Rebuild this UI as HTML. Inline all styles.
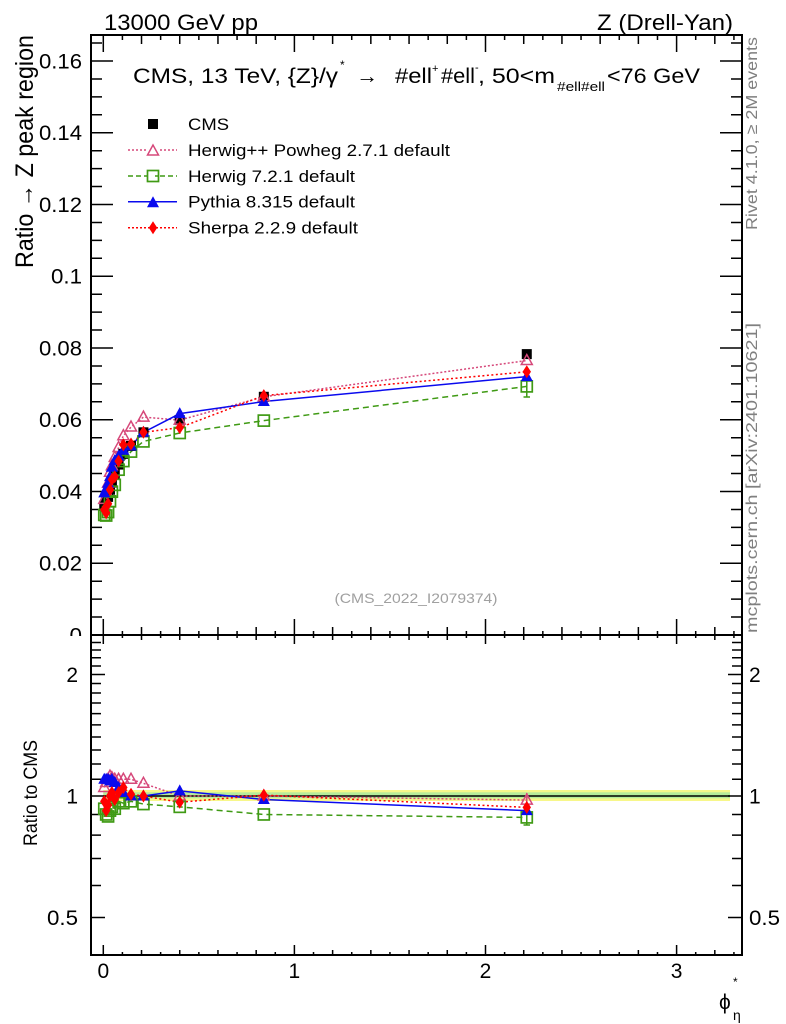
<!DOCTYPE html>
<html><head><meta charset="utf-8"><style>
html,body{margin:0;padding:0;background:#fff;}
svg{display:block;font-family:"Liberation Sans",Arial,sans-serif;}
</style></head><body>
<svg width="786" height="1024" viewBox="0 0 786 1024" xmlns="http://www.w3.org/2000/svg">
<defs>
<rect id="mC" x="-5" y="-5" width="10" height="10" fill="#000"/>
<polygon id="mH" points="0,-6 -5.5,4 5.5,4" fill="none" stroke="#d6487a" stroke-width="1.5"/>
<rect id="mG" x="-5.5" y="-5.5" width="11" height="11" fill="none" stroke="#3f9a14" stroke-width="1.7"/>
<polygon id="mP" points="0,-6.5 -6,4.5 6,4.5" fill="#0a0aee"/>
<polygon id="mS" points="0,-6.5 4.2,0 0,6.5 -4.2,0" fill="#ff0000"/>
<path id="xS" d="M122.41,0V1M160.63,0V1M198.85,0V1M237.07,0V1M275.29,0V1M313.51,0V1M351.73,0V1M389.95,0V1M428.17,0V1M466.39,0V1M504.61,0V1M542.83,0V1M581.05,0V1M619.27,0V1M657.49,0V1M695.71,0V1M733.93,0V1"/>
<path id="xM" d="M141.52,0V1M179.74,0V1M217.96,0V1M256.18,0V1M332.62,0V1M370.84,0V1M409.06,0V1M447.28,0V1M523.72,0V1M561.94,0V1M600.16,0V1M638.38,0V1M714.82,0V1"/>
<path id="xL" d="M103.3,0V1M294.4,0V1M485.5,0V1M676.6,0V1"/>
<path id="yMn" d="M0,617.06H1M0,599.13H1M0,581.19H1M0,545.31H1M0,527.38H1M0,509.44H1M0,473.56H1M0,455.63H1M0,437.69H1M0,401.81H1M0,383.88H1M0,365.94H1M0,330.06H1M0,312.13H1M0,294.19H1M0,258.31H1M0,240.38H1M0,222.44H1M0,186.56H1M0,168.63H1M0,150.69H1M0,114.81H1M0,96.88H1M0,78.94H1M0,43.06H1"/>
<path id="yMj" d="M0,563.25H1M0,491.5H1M0,419.75H1M0,348H1M0,276.25H1M0,204.5H1M0,132.75H1M0,61H1"/>
<path id="rMn" d="M0,885.54H1M0,858.52H1M0,835.11H1M0,814.47H1M0,779.29H1M0,764.04H1M0,750.01H1M0,737.02H1M0,724.92H1M0,713.61H1M0,702.99H1M0,692.97H1M0,683.49H1M0,665.95H1M0,657.79H1M0,650H1M0,642.55H1"/>
<path id="rMj" d="M0,917.5H1M0,796H1M0,674.5H1"/>
</defs>

<text x="104" y="30" font-size="22" textLength="154" lengthAdjust="spacingAndGlyphs">13000 GeV pp</text>
<text x="597" y="30" font-size="22" textLength="136" lengthAdjust="spacingAndGlyphs">Z (Drell-Yan)</text>

<rect x="103.3" y="790" width="626.7" height="11" fill="#f7f78a"/>
<rect x="103.3" y="792.3" width="626.7" height="6" fill="#b6ec9a"/>
<line x1="103.3" y1="796" x2="730" y2="796" stroke="#000" stroke-width="1.5"/>

<g stroke="#000" stroke-width="1.5" fill="none">
<use href="#xS" transform="translate(0,635) scale(1,-4)"/>
<use href="#xM" transform="translate(0,635) scale(1,-8)"/>
<use href="#xL" transform="translate(0,635) scale(1,-16)"/>
<use href="#xS" transform="translate(0,35) scale(1,5)"/>
<use href="#xM" transform="translate(0,35) scale(1,9)"/>
<use href="#xL" transform="translate(0,35) scale(1,17)"/>
<use href="#xS" transform="translate(0,635) scale(1,3)"/>
<use href="#xM" transform="translate(0,635) scale(1,5)"/>
<use href="#xL" transform="translate(0,635) scale(1,9)"/>
<use href="#xS" transform="translate(0,955) scale(1,-3)"/>
<use href="#xM" transform="translate(0,955) scale(1,-5)"/>
<use href="#xL" transform="translate(0,955) scale(1,-10)"/>
<use href="#yMn" transform="translate(91,0) scale(11,1)"/>
<use href="#yMj" transform="translate(91,0) scale(22,1)"/>
<use href="#yMn" transform="translate(742,0) scale(-11,1)"/>
<use href="#yMj" transform="translate(742,0) scale(-22,1)"/>
<use href="#rMn" transform="translate(91,0) scale(10,1)"/>
<use href="#rMj" transform="translate(91,0) scale(14,1)"/>
<use href="#rMn" transform="translate(742,0) scale(-10,1)"/>
<use href="#rMj" transform="translate(742,0) scale(-14,1)"/>
</g>

<g fill="none" stroke-width="1.5">
<polyline stroke="#d6487a" stroke-dasharray="2,2" points="104.26,499.39 106.17,491.64 108.08,483.07 109.99,472.28 111.9,465.76 114.77,457.42 118.59,447.55 123.37,435.71 131.01,427.03 143.43,417.11 179.74,420.11 263.82,396.79 526.78,360.56"/>
<polyline stroke="#3f9a14" stroke-dasharray="6,4" points="104.26,514.89 106.17,515.53 108.08,512.07 109.99,501.33 111.9,491.68 114.77,484.86 118.59,469.7 123.37,461.08 131.01,451.61 143.43,441.43 179.74,433 263.82,420.61 526.78,386.4"/>
<polyline stroke="#0a0aee" points="104.26,492.93 106.17,488.99 108.08,483.07 109.99,476.63 111.9,467.28 114.77,460.64 118.59,456.07 123.37,450.21 131.01,445.94 143.43,432.31 179.74,413.66 263.82,401.55 526.78,376.57"/>
<polyline stroke="#ff0000" stroke-dasharray="2,2.5" points="104.26,509.72 106.17,512.88 108.08,503.79 109.99,489.71 111.9,479.48 114.77,476.79 118.59,461.18 123.37,444.77 131.01,444.05 143.43,432.31 179.74,427.63 263.82,395.6 526.78,371.8"/>
<path d="M526.78,376V397M523.5,397H530" stroke="#3f9a14"/>
</g>

<g>
<use href="#mC" x="104.26" y="505.85"/><use href="#mC" x="106.17" y="502.26"/><use href="#mC" x="108.08" y="496.88"/><use href="#mC" x="109.99" y="489.71"/><use href="#mC" x="111.9" y="482.53"/><use href="#mC" x="114.77" y="473.56"/><use href="#mC" x="118.59" y="464.59"/><use href="#mC" x="123.37" y="453.83"/><use href="#mC" x="131.01" y="445.94"/><use href="#mC" x="143.43" y="432.31"/><use href="#mC" x="179.74" y="420.11"/><use href="#mC" x="263.82" y="396.79"/><use href="#mC" x="526.78" y="354.1"/>
<use href="#mH" x="104.26" y="499.39"/><use href="#mH" x="106.17" y="491.64"/><use href="#mH" x="108.08" y="483.07"/><use href="#mH" x="109.99" y="472.28"/><use href="#mH" x="111.9" y="465.76"/><use href="#mH" x="114.77" y="457.42"/><use href="#mH" x="118.59" y="447.55"/><use href="#mH" x="123.37" y="435.71"/><use href="#mH" x="131.01" y="427.03"/><use href="#mH" x="143.43" y="417.11"/><use href="#mH" x="179.74" y="420.11"/><use href="#mH" x="263.82" y="396.79"/><use href="#mH" x="526.78" y="360.56"/>
<use href="#mG" x="104.26" y="514.89"/><use href="#mG" x="106.17" y="515.53"/><use href="#mG" x="108.08" y="512.07"/><use href="#mG" x="109.99" y="501.33"/><use href="#mG" x="111.9" y="491.68"/><use href="#mG" x="114.77" y="484.86"/><use href="#mG" x="118.59" y="469.7"/><use href="#mG" x="123.37" y="461.08"/><use href="#mG" x="131.01" y="451.61"/><use href="#mG" x="143.43" y="441.43"/><use href="#mG" x="179.74" y="433"/><use href="#mG" x="263.82" y="420.61"/><use href="#mG" x="526.78" y="386.4"/>
<use href="#mP" x="104.26" y="492.93"/><use href="#mP" x="106.17" y="488.99"/><use href="#mP" x="108.08" y="483.07"/><use href="#mP" x="109.99" y="476.63"/><use href="#mP" x="111.9" y="467.28"/><use href="#mP" x="114.77" y="460.64"/><use href="#mP" x="118.59" y="456.07"/><use href="#mP" x="123.37" y="450.21"/><use href="#mP" x="131.01" y="445.94"/><use href="#mP" x="143.43" y="432.31"/><use href="#mP" x="179.74" y="413.66"/><use href="#mP" x="263.82" y="401.55"/><use href="#mP" x="526.78" y="376.57"/>
<use href="#mS" x="104.26" y="509.72"/><use href="#mS" x="106.17" y="512.88"/><use href="#mS" x="108.08" y="503.79"/><use href="#mS" x="109.99" y="489.71"/><use href="#mS" x="111.9" y="479.48"/><use href="#mS" x="114.77" y="476.79"/><use href="#mS" x="118.59" y="461.18"/><use href="#mS" x="123.37" y="444.77"/><use href="#mS" x="131.01" y="444.05"/><use href="#mS" x="143.43" y="432.31"/><use href="#mS" x="179.74" y="427.63"/><use href="#mS" x="263.82" y="395.6"/><use href="#mS" x="526.78" y="371.8"/>
</g>

<g fill="none" stroke-width="1.5">
<polyline stroke="#d6487a" stroke-dasharray="2,2" points="104.26,787.45 106.17,782.51 108.08,779.29 109.99,776.13 111.9,777.7 114.77,779.29 118.59,779.29 123.37,779.29 131.01,779.29 143.43,783.31 179.74,796 263.82,796 526.78,800.08"/>
<polyline stroke="#3f9a14" stroke-dasharray="6,4" points="104.26,808.72 106.17,814.47 108.08,816.43 109.99,810.62 111.9,806.85 114.77,808.72 118.59,801.34 123.37,803.16 131.01,801.34 143.43,804.07 179.74,806.85 263.82,814.47 526.78,817.42"/>
<polyline stroke="#0a0aee" points="104.26,779.29 106.17,779.29 108.08,779.29 109.99,780.9 111.9,779.29 114.77,782.51 118.59,787.45 123.37,792.53 131.01,796 143.43,796 179.74,790.82 263.82,799.54 526.78,810.62"/>
<polyline stroke="#ff0000" stroke-dasharray="2,2.5" points="104.26,801.34 106.17,810.62 108.08,804.99 109.99,796 111.9,792.53 114.77,799.54 118.59,792.53 123.37,787.45 131.01,794.26 143.43,796 179.74,802.25 263.82,795.12 526.78,807.41"/>
<path d="M526.78,809V825M523.5,825H530" stroke="#3f9a14"/>
<path d="M526.78,793V807" stroke="#d6487a"/>
</g>

<g>
<use href="#mH" x="104.26" y="787.45"/><use href="#mH" x="106.17" y="782.51"/><use href="#mH" x="108.08" y="779.29"/><use href="#mH" x="109.99" y="776.13"/><use href="#mH" x="111.9" y="777.7"/><use href="#mH" x="114.77" y="779.29"/><use href="#mH" x="118.59" y="779.29"/><use href="#mH" x="123.37" y="779.29"/><use href="#mH" x="131.01" y="779.29"/><use href="#mH" x="143.43" y="783.31"/><use href="#mH" x="179.74" y="796"/><use href="#mH" x="263.82" y="796"/><use href="#mH" x="526.78" y="800.08"/>
<use href="#mG" x="104.26" y="808.72"/><use href="#mG" x="106.17" y="814.47"/><use href="#mG" x="108.08" y="816.43"/><use href="#mG" x="109.99" y="810.62"/><use href="#mG" x="111.9" y="806.85"/><use href="#mG" x="114.77" y="808.72"/><use href="#mG" x="118.59" y="801.34"/><use href="#mG" x="123.37" y="803.16"/><use href="#mG" x="131.01" y="801.34"/><use href="#mG" x="143.43" y="804.07"/><use href="#mG" x="179.74" y="806.85"/><use href="#mG" x="263.82" y="814.47"/><use href="#mG" x="526.78" y="817.42"/>
<use href="#mP" x="104.26" y="779.29"/><use href="#mP" x="106.17" y="779.29"/><use href="#mP" x="108.08" y="779.29"/><use href="#mP" x="109.99" y="780.9"/><use href="#mP" x="111.9" y="779.29"/><use href="#mP" x="114.77" y="782.51"/><use href="#mP" x="118.59" y="787.45"/><use href="#mP" x="123.37" y="792.53"/><use href="#mP" x="131.01" y="796"/><use href="#mP" x="143.43" y="796"/><use href="#mP" x="179.74" y="790.82"/><use href="#mP" x="263.82" y="799.54"/><use href="#mP" x="526.78" y="810.62"/>
<use href="#mS" x="104.26" y="801.34"/><use href="#mS" x="106.17" y="810.62"/><use href="#mS" x="108.08" y="804.99"/><use href="#mS" x="109.99" y="796"/><use href="#mS" x="111.9" y="792.53"/><use href="#mS" x="114.77" y="799.54"/><use href="#mS" x="118.59" y="792.53"/><use href="#mS" x="123.37" y="787.45"/><use href="#mS" x="131.01" y="794.26"/><use href="#mS" x="143.43" y="796"/><use href="#mS" x="179.74" y="802.25"/><use href="#mS" x="263.82" y="795.12"/><use href="#mS" x="526.78" y="807.41"/>
</g>

<g font-size="21">
<text x="133" y="83" textLength="205" lengthAdjust="spacingAndGlyphs">CMS, 13 TeV, {Z}/γ</text>
<text x="340" y="69" font-size="12">*</text>
<text x="356" y="83" textLength="22" lengthAdjust="spacingAndGlyphs">→</text>
<text x="395" y="83" textLength="37" lengthAdjust="spacingAndGlyphs">#ell</text>
<text x="432" y="72" font-size="11">+</text>
<text x="441" y="83" textLength="34" lengthAdjust="spacingAndGlyphs">#ell</text>
<text x="475" y="71" font-size="11">-</text>
<text x="478" y="83" textLength="77" lengthAdjust="spacingAndGlyphs">, 50&lt;m</text>
<text x="557" y="91" font-size="13" textLength="48" lengthAdjust="spacingAndGlyphs">#ell#ell</text>
<text x="607" y="83" textLength="93" lengthAdjust="spacingAndGlyphs">&lt;76 GeV</text>
</g>

<g stroke-width="1.5" fill="none">
<line x1="128" y1="150" x2="177" y2="150" stroke="#d6487a" stroke-dasharray="2,2"/>
<line x1="128" y1="176" x2="177" y2="176" stroke="#3f9a14" stroke-dasharray="5,3"/>
<line x1="128" y1="201.7" x2="177" y2="201.7" stroke="#0a0aee"/>
<line x1="128" y1="227.7" x2="177" y2="227.7" stroke="#ff0000" stroke-dasharray="2,2"/>
</g>
<rect x="148" y="119" width="10" height="10" fill="#000"/>
<rect x="148" y="145" width="10" height="10" fill="#fff"/>
<use href="#mH" x="153" y="151"/>
<rect x="147.5" y="170.5" width="11" height="11" fill="#fff"/>
<use href="#mG" x="153" y="176"/>
<line x1="155" y1="176" x2="159" y2="176" stroke="#3f9a14" stroke-width="1.5"/>
<use href="#mP" x="153" y="202.7"/>
<use href="#mS" x="153" y="227.7"/>
<g font-size="16.5">
<text x="188" y="130" textLength="41" lengthAdjust="spacingAndGlyphs">CMS</text>
<text x="188" y="156" textLength="262" lengthAdjust="spacingAndGlyphs">Herwig++ Powheg 2.7.1 default</text>
<text x="188" y="182" textLength="167" lengthAdjust="spacingAndGlyphs">Herwig 7.2.1 default</text>
<text x="188" y="207.7" textLength="167" lengthAdjust="spacingAndGlyphs">Pythia 8.315 default</text>
<text x="188" y="233.7" textLength="170" lengthAdjust="spacingAndGlyphs">Sherpa 2.2.9 default</text>
</g>

<text x="416" y="603" font-size="14" fill="#a0a0a0" text-anchor="middle" textLength="163" lengthAdjust="spacingAndGlyphs">(CMS_2022_I2079374)</text>

<g font-size="21" text-anchor="end">
<text x="82" y="68.3" textLength="43" lengthAdjust="spacingAndGlyphs">0.16</text>
<text x="82" y="140" textLength="43" lengthAdjust="spacingAndGlyphs">0.14</text>
<text x="82" y="211.8" textLength="43" lengthAdjust="spacingAndGlyphs">0.12</text>
<text x="82" y="283.5" textLength="31" lengthAdjust="spacingAndGlyphs">0.1</text>
<text x="82" y="355.3" textLength="43" lengthAdjust="spacingAndGlyphs">0.08</text>
<text x="82" y="427" textLength="43" lengthAdjust="spacingAndGlyphs">0.06</text>
<text x="82" y="498.8" textLength="43" lengthAdjust="spacingAndGlyphs">0.04</text>
<text x="82" y="570.5" textLength="43" lengthAdjust="spacingAndGlyphs">0.02</text>
<text x="82" y="642.3" textLength="12.5" lengthAdjust="spacingAndGlyphs">0</text>
</g>
<rect x="30" y="636" width="60" height="12" fill="#fff"/>

<g font-size="21">
<text x="78" y="682" text-anchor="end">2</text>
<text x="78" y="803.5" text-anchor="end">1</text>
<text x="78" y="925" text-anchor="end" textLength="31" lengthAdjust="spacingAndGlyphs">0.5</text>
<text x="749" y="682">2</text>
<text x="749" y="803.5">1</text>
<text x="749" y="925" textLength="31" lengthAdjust="spacingAndGlyphs">0.5</text>
</g>

<g font-size="21" text-anchor="middle">
<text x="103.3" y="978">0</text>
<text x="294.4" y="978">1</text>
<text x="485.5" y="978">2</text>
<text x="676.6" y="978">3</text>
</g>
<text x="719" y="1009" font-size="21">ϕ</text>
<text x="733" y="986" font-size="12">*</text>
<text x="733" y="1020" font-size="14">η</text>

<text transform="translate(33,268) scale(1.13,1) rotate(-90)" font-size="22.5" textLength="233" lengthAdjust="spacingAndGlyphs">Ratio → Z peak region</text>
<text transform="translate(37,846) scale(1.13,1) rotate(-90)" font-size="17.5" textLength="106" lengthAdjust="spacingAndGlyphs">Ratio to CMS</text>
<text transform="translate(757,230) rotate(-90)" font-size="16" fill="#808080" textLength="193" lengthAdjust="spacingAndGlyphs">Rivet 4.1.0, ≥ 2M events</text>
<text transform="translate(757,633) rotate(-90)" font-size="16" fill="#808080" textLength="310" lengthAdjust="spacingAndGlyphs">mcplots.cern.ch [arXiv:2401.10621]</text>

<rect x="91" y="35" width="651" height="600" fill="none" stroke="#000" stroke-width="2"/>
<rect x="91" y="635" width="651" height="320" fill="none" stroke="#000" stroke-width="2"/>
</svg>
</body></html>
